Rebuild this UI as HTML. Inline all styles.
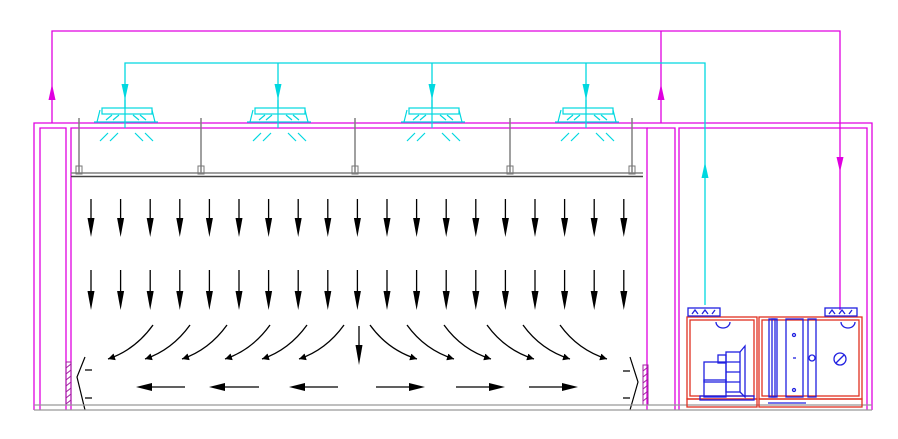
<!DOCTYPE html>
<html><head><meta charset="utf-8"><style>html,body{margin:0;padding:0;background:#fff}svg{display:block}</style></head>
<body>
<svg width="898" height="439" viewBox="0 0 898 439" xmlns="http://www.w3.org/2000/svg">
<defs>
<marker id="ah" viewBox="0 0 10 10" refX="10" refY="5" markerWidth="7" markerHeight="7" markerUnits="userSpaceOnUse" orient="auto"><path d="M0,0 L10,5 L0,10z" fill="#000"/></marker>
</defs>
<!-- magenta ducts -->
<g stroke="#e000e0" stroke-width="1.3" fill="none">
<polyline points="52,123 52,31 840,31 840,310"/>
<line x1="661" y1="31" x2="661" y2="123"/>
<!-- building -->
<polyline points="34,410 34,123 872,123 872,410"/>
<polyline points="40,410 40,128 66,128 66,410"/>
<polyline points="71,410 71,128 647,128 647,410"/>
<polyline points="675,410 675,128 647,128"/>
<polyline points="679,410 679,128 867,128 867,410"/>
</g>
<g fill="#e000e0">
<path d="M52,84 L48.5,100 L55.5,100z"/>
<path d="M661,84 L657.5,100 L664.5,100z"/>
<path d="M840,172 L836.5,157 L843.5,157z"/>
</g>
<!-- hatched wall sections -->
<g stroke="#a020a0" stroke-width="1" fill="none">
<rect x="66" y="362" width="5" height="43"/>
<rect x="643" y="365" width="5" height="40"/>
<path d="M66,368 l5,-4 M66,374 l5,-4 M66,380 l5,-4 M66,386 l5,-4 M66,392 l5,-4 M66,398 l5,-4 M66,404 l5,-4"/>
<path d="M643,371 l5,-4 M643,377 l5,-4 M643,383 l5,-4 M643,389 l5,-4 M643,395 l5,-4 M643,401 l5,-4"/>
</g>
<!-- cyan -->
<g stroke="#00d8e0" stroke-width="1.3" fill="none">
<polyline points="125,108 125,63 705,63 705,305"/>
<line x1="278" y1="63" x2="278" y2="108"/>
<line x1="432" y1="63" x2="432" y2="108"/>
<line x1="586" y1="63" x2="586" y2="108"/>
</g>
<g fill="#00d8e0">
<path d="M705,162 L701.5,178 L708.5,178z"/>
<path d="M125,100 L121.5,84 L128.5,84z"/>
<path d="M278,100 L274.5,84 L281.5,84z"/>
<path d="M432,100 L428.5,84 L435.5,84z"/>
<path d="M586,100 L582.5,84 L589.5,84z"/>
</g>
<g stroke="#00d8e0" stroke-width="1.2" fill="none" id="dif">
<rect x="102" y="108" width="50" height="6"/>
<path d="M97,122 L100,110 M155,122 L152,110 M94,122 L158,122 M125,100 L125,128"/>
<path d="M106,120 l6,-5 M113,120 l6,-5 M133,115 l6,5 M140,115 l6,5"/>
<path d="M108,133 l-8,8 M118,133 l-8,8 M135,133 l8,8 M145,133 l8,8"/>
</g>
<use href="#dif" x="153"/><use href="#dif" x="307"/><use href="#dif" x="461"/>
<!-- ceiling & hangers -->
<g stroke="#808080" stroke-width="1.5" fill="none">
<line x1="71" y1="173" x2="643" y2="173"/>
<line x1="71" y1="176.5" x2="643" y2="176.5" stroke="#444"/>
<path d="M79,118 V173 M201,118 V173 M355,118 V173 M510,118 V173 M632,118 V173"/>
</g>
<g fill="none" stroke="#777" stroke-width="1">
<rect x="76" y="166" width="6" height="8"/><rect x="198" y="166" width="6" height="8"/><rect x="352" y="166" width="6" height="8"/><rect x="507" y="166" width="6" height="8"/><rect x="629" y="166" width="6" height="8"/>
</g>
<!-- down arrows -->
<g id="col" stroke="#000" stroke-width="1.3">
<line x1="91" y1="199" x2="91" y2="224"/><path d="M91,237 L87.5,218 L94.5,218z" fill="#000" stroke="none"/>
<line x1="91" y1="270" x2="91" y2="296"/><path d="M91,310 L87.5,291 L94.5,291z" fill="#000" stroke="none"/>
</g>
<use href="#col" x="29.6"/><use href="#col" x="59.2"/><use href="#col" x="88.8"/><use href="#col" x="118.4"/><use href="#col" x="148"/><use href="#col" x="177.6"/><use href="#col" x="207.2"/><use href="#col" x="236.8"/><use href="#col" x="266.4"/><use href="#col" x="296"/><use href="#col" x="325.6"/><use href="#col" x="355.2"/><use href="#col" x="384.8"/><use href="#col" x="414.4"/><use href="#col" x="444"/><use href="#col" x="473.6"/><use href="#col" x="503.2"/><use href="#col" x="532.8"/>
<line x1="359" y1="326" x2="359" y2="350" stroke="#000" stroke-width="1.3"/><path d="M359,365 L355.5,345 L362.5,345z"/>
<!-- curved arrows -->
<g stroke="#000" stroke-width="1.3" fill="none" marker-end="url(#ah)">
<path d="M153,325 Q135,350 108,359"/><path d="M190,325 Q172,350 145,359"/><path d="M227,325 Q209,350 182,359"/><path d="M270,325 Q252,350 225,359"/><path d="M307,325 Q289,350 262,359"/><path d="M344,325 Q326,350 299,359"/>
<path d="M370,325 Q388,350 417,359"/><path d="M407,325 Q425,350 454,359"/><path d="M444,325 Q462,350 491,359"/><path d="M487,325 Q505,350 534,359"/><path d="M523,325 Q541,350 570,359"/><path d="M560,325 Q578,350 607,359"/>
</g>
<!-- horizontal arrows -->
<g stroke="#000" stroke-width="1.3">
<line x1="185" y1="387" x2="150" y2="387"/><line x1="259" y1="387" x2="223" y2="387"/><line x1="338" y1="387" x2="303" y2="387"/>
<line x1="376" y1="387" x2="411" y2="387"/><line x1="456" y1="387" x2="491" y2="387"/><line x1="529" y1="387" x2="564" y2="387"/>
</g>
<g fill="#000">
<path d="M136,387 l16,-4 v8z"/><path d="M209,387 l16,-4 v8z"/><path d="M289,387 l16,-4 v8z"/>
<path d="M425,387 l-16,-4 v8z"/><path d="M505,387 l-16,-4 v8z"/><path d="M578,387 l-16,-4 v8z"/>
</g>
<!-- grilles -->
<g stroke="#000" stroke-width="1.2" fill="none">
<path d="M85,357 L77,377 L85,410 M85,370 H92 M85,398 H92"/>
<path d="M630,357 L638,382 L630,410 M630,371 H623 M630,398 H623"/>
</g>
<!-- floor -->
<g stroke="#999" stroke-width="1.2"><line x1="34" y1="405" x2="872" y2="405"/><line x1="34" y1="410" x2="872" y2="410"/></g>
<!-- AHU -->
<g stroke="#e03020" stroke-width="1.3" fill="none">
<rect x="687" y="317" width="70" height="82"/><rect x="690" y="320" width="64" height="76"/>
<rect x="759" y="317" width="103" height="82"/><rect x="762" y="320" width="97" height="76"/>
<rect x="687" y="399" width="70" height="8"/><rect x="759" y="399" width="103" height="8"/>
</g>
<g stroke="#2020e0" stroke-width="1.3" fill="none">
<rect x="688" y="308" width="32" height="8"/><rect x="825" y="308" width="32" height="8"/>
<path d="M692,314 l3,-4 l3,4 M702,314 l3,-4 l3,4 M712,314 l3,-4"/>
<path d="M829,314 l3,-4 l3,4 M839,314 l3,-4 l3,4 M849,314 l3,-4"/>
<path d="M716,322 a7,6 0 0 0 14,0 M841,322 a7,6 0 0 0 14,0"/>
<rect x="704" y="362" width="22" height="20"/><rect x="704" y="380" width="22" height="17"/><rect x="718" y="355" width="8" height="8"/>
<rect x="726" y="352" width="14" height="40"/><path d="M726,362 H740 M726,372 H740 M726,382 H740"/>
<path d="M740,352 L745,346 V397 L740,392"/>
<rect x="700" y="396" width="54" height="4"/>
<rect x="769" y="319" width="8" height="78"/><rect x="772" y="319" width="3" height="78"/>
<rect x="786" y="319" width="17" height="78"/>
<rect x="808" y="319" width="8" height="78"/>
<circle cx="812" cy="358" r="3"/>
<circle cx="840" cy="359" r="6"/><path d="M836,363 L844,355"/>
<circle cx="794" cy="335" r="1.5"/><circle cx="794" cy="390" r="1.5"/><line x1="793" y1="358" x2="796" y2="358"/>
<path d="M768,403 H806"/>
</g>
</svg>
</body></html>
